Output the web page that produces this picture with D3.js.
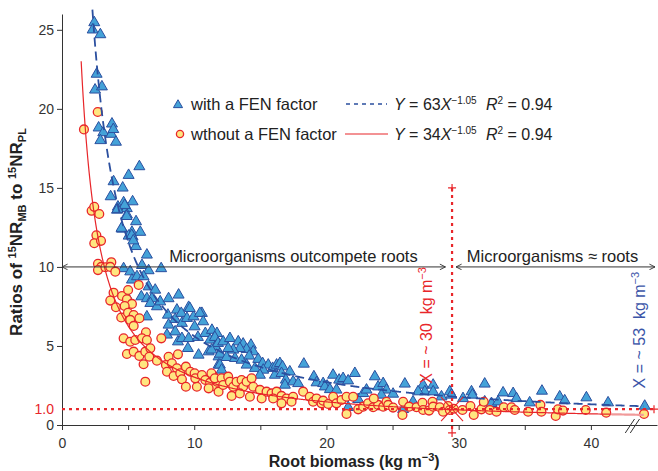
<!DOCTYPE html>
<meta charset="utf-8">
<style>
body { margin: 0; background: #fff; }
text { font-family: "Liberation Sans", Arial, sans-serif; fill: #333; }
.axis path, .axis line { stroke: #333; }
.axis text { font-size: 14px; fill: #333; }
</style>
<body>
<script src="https://d3js.org/d3.v7.min.js"></script>
<script>

// points: [root biomass, ratio]
var withFen = [
  [2.44,25.46],[2.32,25.0],[2.9,24.7],[2.62,22.2],[2.5,21.2],[3.02,21.4],[2.77,18.8],[3.78,19.05],
  [3.12,18.5],[3.73,18.4],[2.9,18.0],[3.88,18.7],[4.08,17.9],[5.85,16.35],[5.04,15.8],[3.9,15.4],
  [4.59,15.0],[3.68,14.45],[4.66,14.07],[5.34,14.13],[4.23,13.8],[4.9,13.7],
  [4.16,13.6],[4.74,13.9],[4.54,12.4],[5.29,12.2],[5.92,12.2],[5.04,11.96],[5.34,11.9],[5.59,11.3],
  [4.91,13.3],[6.42,10.76],[4.66,9.9],[5.16,9.7],[6.05,10.1],[6.55,9.77],[7.5,9.9],[5.29,9.18],
  [5.67,9.39],[6.17,9.39],[6.55,8.75],[7.05,8.54],[6.0,8.12],[6.42,8.0],[6.8,8.0],[6.68,7.7],
  [4.91,8.12],[7.18,7.49],[7.43,7.8],[8.06,8.0],[8.82,8.23],[6.42,6.85],[8.01,6.96],[8.69,7.28],
  [9.58,7.45],[8.06,6.33],[8.56,6.69],[9.02,7.07],[9.07,6.44],[9.45,6.75],[9.95,6.85],[10.58,7.07],
  [10.03,6.22],[7.94,5.7],[8.56,5.9],[8.77,5.27],[9.07,5.48],[9.58,5.48],[10.28,5.55],[9.52,4.85],
  [10.84,5.8],[11.34,6.0],[11.72,5.8],[11.2,5.38],[11.59,4.96],[10.33,4.43],[11.09,4.64],[11.84,4.32],
  [11.84,3.8],[4.5,12.45],[5.27,12.0],[5.39,11.66],[5.6,12.87],[4.2,13.65],[4.89,13.2],
  [9.67,7.38],[10.43,7.07],[10.68,6.54],
  [11.56,5.55],[11.8,5.17],[12.19,5.27],[12.7,5.48],[13.33,5.27],[13.7,5.13],[14.29,5.06],[14.46,4.64],
  [13.96,4.79],[13.45,4.85],[12.95,4.75],[12.57,4.85],[11.31,4.75],[11.94,4.49],[12.45,4.28],[13.08,4.22],
  [13.58,4.11],[14.16,4.37],[14.84,4.16],[15.17,3.9],[15.6,3.8],[15.93,3.59],[16.23,3.8],[16.48,3.9],
  [16.68,3.69],[15.22,3.48],[14.59,3.59],[13.96,3.8],[11.94,3.8],[12.07,3.48],[14.97,3.16],[16.1,3.16],
  [16.6,3.27],[17.23,3.37],[18.29,3.86],[16.93,2.85],[16.86,2.53],[17.48,2.74],[17.86,2.63],[19.05,3.06],
  [19.25,2.68],[19.75,2.63],[20.05,2.47],[20.5,3.16],[20.96,2.85],[21.26,2.95],[21.64,2.8],[22.15,3.27],
  [19.88,2.42],[20.26,2.25],[20.76,2.22],[22.4,1.62],[22.78,2.0],[23.03,2.22],[23.66,3.06],[23.91,2.42],
  [24.29,2.63],[24.54,2.22],[21.64,1.12],
  [24.16,1.9],[25.04,1.96],[25.93,2.6],[26.55,1.47],[27.31,2.53],[27.44,2.11],[26.93,2.11],[28.07,2.53],
  [28.07,2.11],[25.8,0.99],[28.7,1.79],[29.33,2.11],[29.45,1.9],[30.33,1.68],[30.97,2.11],[31.04,1.9],
  [31.97,2.6],[31.97,1.47],[32.48,1.37],[32.98,1.47],[33.36,2.04],[34.12,2.0],[34.37,1.68],[35.37,1.41],
  [36.3,2.15],[37.64,1.79],[38.02,1.54],[39.66,1.73],[41.3,1.41],[44.07,1.2]
];

var withoutFen = [
  [2.7,19.8],[1.66,18.7],[2.24,13.55],[2.44,13.8],[2.82,13.35],[2.6,12.0],[2.44,11.5],[2.95,11.65],
  [2.72,10.2],[2.97,10.0],[2.72,9.8],[3.28,9.98],[3.73,10.3],[3.65,10.0],[4.03,9.7],[5.8,8.86],
  [3.9,8.37],[4.54,8.16],[3.65,7.87],[4.91,7.95],[5.29,7.66],[4.08,7.45],[4.74,7.53],[4.48,6.8],
  [4.99,7.1],[5.42,6.96],[5.85,6.75],[5.16,6.65],[5.42,6.27],[6.35,5.86],[4.66,5.48],[5.16,5.27],
  [5.54,5.38],[6.05,5.48],[6.42,5.38],[4.91,4.49],[5.42,4.64],[5.85,4.37],[6.3,4.64],[6.68,4.85],
  [6.17,3.84],[6.6,4.32],[7.18,4.07],[7.51,5.48],[6.3,2.74],[8.06,4.32],[8.77,4.47],[7.86,3.8],
  [8.31,3.9],[8.69,3.59],[7.94,3.37],[8.44,3.1],[8.94,3.27],[9.07,2.89],[9.37,3.69],[9.7,3.37],
  [9.37,2.42],[10.03,3.27],[10.2,2.42],[10.08,2.95],[10.58,3.16],[10.84,2.85],[11.2,2.68],[11.47,3.06],
  [11.64,2.42],[11.84,2.11],[11.09,2.32],[11.72,2.74],[5.0,8.54],
  [11.3,3.27],[11.56,2.95],[12.07,2.95],[12.19,2.53],[12.57,3.06],[12.7,2.74],[12.95,2.42],[13.2,2.74],
  [13.58,2.85],[13.7,2.42],[13.96,2.74],[14.34,2.95],[14.46,2.42],[12.83,1.84],[13.45,2.0],[14.21,1.79],
  [14.97,2.22],[15.1,1.68],[15.47,2.11],[15.85,2.0],[16.23,2.11],[15.97,1.68],[16.6,1.84],[16.98,1.68],
  [17.48,1.79],[16.6,1.37],[17.36,1.47],[18.24,2.11],[18.74,1.79],[18.99,1.47],[19.25,1.68],[19.63,1.37],
  [19.75,1.54],[20.13,1.33],[20.51,1.79],[20.76,1.37],[21.14,1.58],[21.52,1.79],[22.02,1.79],[21.52,0.7],
  [22.4,0.99],[22.78,1.16],[23.15,1.37],[23.53,1.12],[23.91,1.27],[24.29,1.16],[23.58,1.68],[24.54,1.47],
  [24.67,1.27],[25.04,1.1],[25.8,1.47],[25.75,0.63],[26.25,1.16],[26.81,1.12],[27.26,1.41],[27.31,0.95],
  [27.76,0.91],[28.02,1.47],[28.07,1.16],[28.57,1.12],[28.82,0.84],[29.2,1.2],[29.33,0.95],[29.63,1.03],
  [30.29,0.95],[30.89,1.2],[31.14,0.63],[31.72,0.99],[31.9,1.47],[32.35,0.95],[32.86,0.84],[33.41,1.12],
  [33.99,1.12],[34.24,0.95],[35.25,0.84],[36.18,1.27],[36.26,0.84],[37.34,0.57],[37.51,0.99],[37.89,0.91],
  [39.61,0.95],[41.16,0.78],[44.02,0.7]
];

// fitted power curves Y = a * X^b, with the x span each is drawn over
var fitWith = {a: 63, b: -1.05, from: 2.3, to: 44};
var fitWithout = {a: 34, b: -1.05, from: 1.45, to: 41.5};
var fitWithoutTail = {a: 34, b: -1.05, from: 41.5, to: 44};

var xTicks = [0, 5, 10, 15, 20, 25, 30, 35, 40];
var yTicks = [0, 5, 10, 15, 20, 25];
var thresholdX = 29.5;   // X = ~30
var thresholdTop = 15;
var ratioLine = 1.0;

var margin = {top: 14, right: 1, bottom: 46, left: 62},
    width = 658 - margin.left - margin.right,
    height = 471 - margin.top - margin.bottom;

var red = "#e8262a", blue = "#2b4f9f", triFill = "#44a2d8", circFill = "#ffe680";

var x = d3.scaleLinear().domain([0, 45]).range([0, width]);
var y = d3.scaleLinear().domain([0, 26]).range([height, 0]);

var svgRoot = d3.select("body").append("svg")
    .attr("width", 658).attr("height", 471);

var defs = svgRoot.append("defs");
defs.append("marker").attr("id", "arrow")
    .attr("viewBox", "0 0 10 10").attr("refX", 9).attr("refY", 5)
    .attr("markerWidth", 7).attr("markerHeight", 7).attr("markerUnits", "userSpaceOnUse")
    .attr("orient", "auto-start-reverse")
  .append("path").attr("d", "M1,1 L9,5 L1,9").attr("fill", "none").attr("stroke", "#333").attr("stroke-width", 1.3);

var svg = svgRoot.append("g")
    .attr("transform", "translate(" + margin.left + "," + margin.top + ")");

// axes
var xAxis = svg.append("g").attr("class", "axis")
    .attr("transform", "translate(0," + height + ")")
    .call(d3.axisBottom(x).tickValues(xTicks).tickSize(5).tickSizeOuter(0)
      .tickFormat(function(d) { return d % 10 === 0 ? d : ""; }));
xAxis.selectAll("text").attr("dy", "1.05em");

svg.append("g").attr("class", "axis")
    .call(d3.axisLeft(y).tickValues(yTicks).tickSize(5).tickSizeOuter(0));

svg.append("text")
    .attr("x", -8).attr("y", y(ratioLine)).attr("dy", "0.35em")
    .attr("text-anchor", "end").style("font-size", "14px").style("fill", red)
    .text("1.0");

// axis break on x
[0, 5].forEach(function(o) {
  svg.append("line")
      .attr("x1", x(42.6) + o).attr("y1", height + 8)
      .attr("x2", x(43.3) + o).attr("y2", height - 6)
      .attr("stroke", "#333").attr("stroke-width", 1);
});

// points
var tri = d3.symbol().type(d3.symbolTriangle).size(52);
svg.append("g").selectAll("path")
    .data(withFen)
  .enter().append("path")
    .attr("d", tri)
    .attr("transform", function(d) { return "translate(" + x(d[0]) + "," + y(d[1]) + ")"; })
    .attr("fill", triFill).attr("stroke", blue).attr("stroke-width", 1);

svg.append("g").selectAll("circle")
    .data(withoutFen)
  .enter().append("circle")
    .attr("cx", function(d) { return x(d[0]); })
    .attr("cy", function(d) { return y(d[1]); })
    .attr("r", 4.4)
    .attr("fill", circFill).attr("stroke", red).attr("stroke-width", 1.3);

// fitted curves
function curvePts(f) {
  return d3.range(f.from, f.to, 0.05).concat([f.to]).map(function(v) { return [v, f.a * Math.pow(v, f.b)]; });
}
var line = d3.line().x(function(d) { return x(d[0]); }).y(function(d) { return y(d[1]); });

svg.append("path").datum(curvePts(fitWith))
    .attr("d", line).attr("fill", "none")
    .attr("stroke", blue).attr("stroke-width", 1.8).attr("stroke-dasharray", "9,5");

svg.append("path").datum(curvePts(fitWithout))
    .attr("d", line).attr("fill", "none")
    .attr("stroke", red).attr("stroke-width", 1.2);
svg.append("path").datum(curvePts(fitWithoutTail))
    .attr("d", line).attr("fill", "none")
    .attr("stroke", "#f19a9a").attr("stroke-width", 2.2);

// dotted reference lines
svg.append("line")
    .attr("x1", x(0)).attr("x2", x(45) - 3).attr("y1", y(ratioLine)).attr("y2", y(ratioLine))
    .attr("stroke", red).attr("stroke-width", 2.2).attr("stroke-dasharray", "3,4");
svg.append("line")
    .attr("x1", x(thresholdX)).attr("x2", x(thresholdX)).attr("y1", y(thresholdTop)).attr("y2", y(-0.5))
    .attr("stroke", red).attr("stroke-width", 2.2).attr("stroke-dasharray", "3,4");

function plus(px, py) {
  svg.append("path")
      .attr("d", "M" + (px - 4) + "," + py + "H" + (px + 4) + "M" + px + "," + (py - 4) + "V" + (py + 4))
      .attr("stroke", red).attr("stroke-width", 1.2);
}
plus(x(thresholdX), y(thresholdTop));
plus(x(thresholdX), y(-0.5));
plus(x(45) - 3, y(ratioLine));

// big cross where the curve meets 1.0
var cx = x(thresholdX), cy = y(ratioLine);
svg.append("path")
    .attr("d", "M" + (cx - 11) + "," + (cy - 12) + "L" + (cx + 11) + "," + (cy + 12) +
               "M" + (cx + 11) + "," + (cy - 12) + "L" + (cx - 11) + "," + (cy + 12))
    .attr("stroke", red).attr("stroke-width", 1.1);

// region arrows
svg.append("line")
    .attr("x1", x(0)).attr("x2", x(29.0)).attr("y1", y(10)).attr("y2", y(10))
    .attr("stroke", "#333").attr("stroke-width", 1)
    .attr("marker-start", "url(#arrow)").attr("marker-end", "url(#arrow)");
svg.append("line")
    .attr("x1", x(29.8)).attr("x2", x(45) - 2).attr("y1", y(10)).attr("y2", y(10))
    .attr("stroke", "#333").attr("stroke-width", 1)
    .attr("marker-start", "url(#arrow)").attr("marker-end", "url(#arrow)");

svg.append("text")
    .attr("x", x(17.5)).attr("y", y(10) - 5).attr("text-anchor", "middle")
    .style("font-size", "16.5px").style("fill", "#222")
    .text("Microorganisms outcompete roots");
svg.append("text")
    .attr("x", x(37.1)).attr("y", y(10) - 5).attr("text-anchor", "middle")
    .style("font-size", "16.5px").style("fill", "#222")
    .text("Microorganisms \u2248 roots");

// rotated threshold labels
function vLabel(xv, yv, num, color) {
  var t = svg.append("text")
      .attr("transform", "translate(" + x(xv) + "," + y(yv) + ") rotate(-90)")
      .attr("text-anchor", "middle")
      .style("white-space", "pre")
      .style("font-size", "16px").style("fill", color);
  t.append("tspan").text("X = ~ " + num + "  kg m");
  t.append("tspan").attr("dy", -6).style("font-size", "11px").text("\u22123");
}
vLabel(28.0, 6.3, "30", red);
vLabel(44.1, 6.0, "53", "#3b55a8");

// legend
var lg = svg.append("g");
var row1 = 104 - margin.top, row2 = 134 - margin.top;
lg.append("path").attr("d", d3.symbol().type(d3.symbolTriangle).size(36))
    .attr("transform", "translate(" + (178 - margin.left) + "," + (row1 + 1) + ")")
    .attr("fill", triFill).attr("stroke", blue).attr("stroke-width", 1);
lg.append("circle").attr("cx", 180 - margin.left).attr("cy", row2).attr("r", 3.6)
    .attr("fill", circFill).attr("stroke", red).attr("stroke-width", 1.3);

function legText(yy, s) {
  lg.append("text").attr("x", 191 - margin.left).attr("y", yy).attr("dy", "0.35em")
      .style("font-size", "16.5px").style("fill", "#222").text(s);
}
legText(row1, "with a FEN factor");
legText(row2, "wthout a FEN factor");

lg.append("line").attr("x1", 346 - margin.left).attr("x2", 387 - margin.left)
    .attr("y1", row1).attr("y2", row1)
    .attr("stroke", blue).attr("stroke-width", 1.6).attr("stroke-dasharray", "4,4");
lg.append("line").attr("x1", 345 - margin.left).attr("x2", 388 - margin.left)
    .attr("y1", row2).attr("y2", row2)
    .attr("stroke", red).attr("stroke-width", 1.2);

function equation(yy, a) {
  var t = lg.append("text").attr("x", 394 - margin.left).attr("y", yy).attr("dy", "0.35em")
      .style("font-size", "16px").style("fill", "#222");
  t.append("tspan").style("font-style", "italic").text("Y");
  t.append("tspan").text(" = " + a);
  t.append("tspan").style("font-style", "italic").text("X");
  t.append("tspan").attr("dy", -6).style("font-size", "10px").text("\u22121.05");
  var r = lg.append("text").attr("x", 486 - margin.left).attr("y", yy).attr("dy", "0.35em")
      .style("font-size", "16px").style("fill", "#222");
  r.append("tspan").style("font-style", "italic").text("R");
  r.append("tspan").attr("dy", -6).style("font-size", "10px").text("2");
  r.append("tspan").attr("dy", 6).text(" = 0.94");
}
equation(row1, 63);
equation(row2, 34);

// axis titles
svg.append("text")
    .attr("x", x(22.1)).attr("y", height + 42).attr("text-anchor", "middle")
    .style("font-size", "16px").style("font-weight", "bold").style("fill", "#222")
    .call(function(t) {
      t.append("tspan").text("Root biomass (kg m");
      t.append("tspan").attr("dy", -6).style("font-size", "11px").text("\u22123");
      t.append("tspan").attr("dy", 6).text(")");
    });

var yt = svg.append("text")
    .attr("transform", "translate(" + (22 - margin.left) + "," + (232 - margin.top) + ") rotate(-90)")
    .attr("text-anchor", "middle")
    .style("font-size", "17px").style("font-weight", "bold").style("fill", "#222");
yt.append("tspan").text("Ratios of ");
yt.append("tspan").attr("dy", -6).style("font-size", "11px").text("15");
yt.append("tspan").attr("dy", 6).text("NR");
yt.append("tspan").attr("dy", 4).style("font-size", "11px").text("MB");
yt.append("tspan").attr("dy", -4).text(" to ");
yt.append("tspan").attr("dy", -6).style("font-size", "11px").text("15");
yt.append("tspan").attr("dy", 6).text("NR");
yt.append("tspan").attr("dy", 4).style("font-size", "11px").text("PL");

</script>
</body>
